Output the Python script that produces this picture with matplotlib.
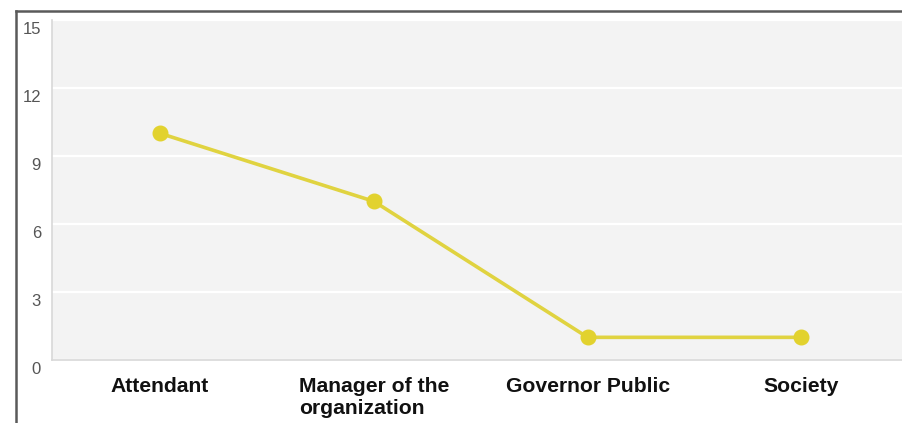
import matplotlib
matplotlib.use("Agg")
import matplotlib.pyplot as plt
import matplotlib.transforms as mtransforms
from matplotlib.lines import Line2D

categories = ["Attendant", "Manager of the\norganization", "Governor Public", "Society"]
values = [10, 7, 1, 1]
y_ticks = [0, 3, 6, 9, 12, 15]

W, H = 902, 423
fig = plt.figure(figsize=(W / 100, H / 100), dpi=100)
fig.patch.set_facecolor("white")

left, right, top, bottom = 52, 902, 20, 360
ax = fig.add_axes([left / W, (H - bottom) / H, (right - left) / W, (bottom - top) / H])
ax.set_facecolor("#f3f3f3")

x = list(range(len(categories)))
ax.plot(x, values, color="#e0d340", lw=2.6, marker="o", ms=10.5,
        markerfacecolor="#e2d22e", markeredgecolor="#e2d22e", zorder=3,
        solid_capstyle="round")

ax.set_xlim(-0.505, 3.47)
ax.set_ylim(0, 15)
ax.set_yticks(y_ticks)
ax.grid(axis="y", color="white", lw=1.6, zorder=1)
ax.set_axisbelow(True)

for s in ["top", "right"]:
    ax.spines[s].set_visible(False)
for s in ["left", "bottom"]:
    ax.spines[s].set_color("#d8d8d8")
    ax.spines[s].set_linewidth(1.2)

ax.tick_params(axis="both", length=0)
ax.set_xticks(x)
ax.set_xticklabels(categories, fontfamily="Liberation Sans", fontweight="bold",
                   fontsize=15.2, color="#111111", ha="center", va="top",
                   multialignment="left", linespacing=1.22)
ax.tick_params(axis="x", pad=12)
ax.tick_params(axis="y", pad=8)
for lbl in ax.get_yticklabels():
    lbl.set_fontfamily("Liberation Sans")
    lbl.set_fontsize(12)
    lbl.set_color("#555555")
    lbl.set_transform(lbl.get_transform() +
                      mtransforms.ScaledTranslation(0, -8 / 100, fig.dpi_scale_trans))

# outer frame on the left and top
fx = 15.5 / W
fy = 1 - 11.5 / H
fig.add_artist(Line2D([fx, fx], [0, fy], transform=fig.transFigure,
                      color="#5a5a5a", lw=1.8))
fig.add_artist(Line2D([fx, 1], [fy, fy], transform=fig.transFigure,
                      color="#5a5a5a", lw=1.8))

fig.savefig("out.png", dpi=100)
